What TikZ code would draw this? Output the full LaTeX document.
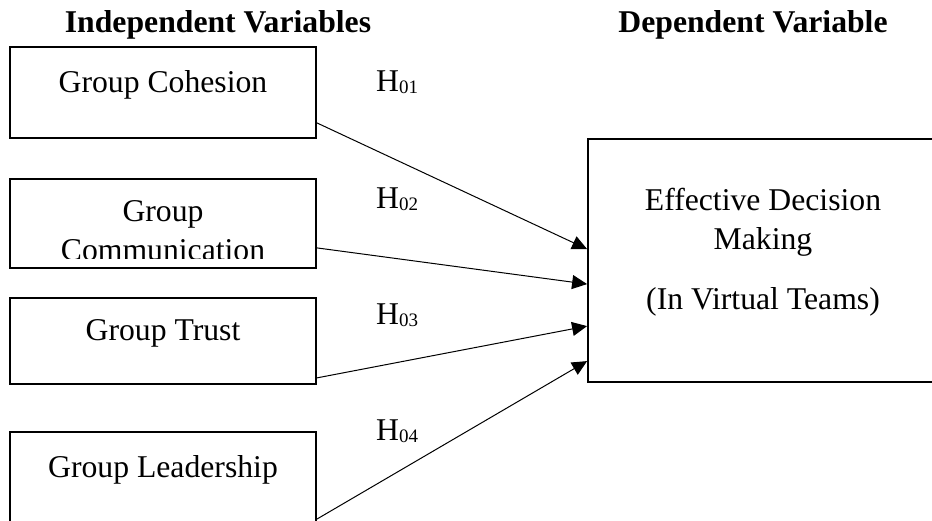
\documentclass[tikz,border=0pt]{standalone}
\usepackage{fontspec}
\setmainfont{Liberation Serif}
\usetikzlibrary{arrows.meta}
\newcommand{\bigtxt}{\fontsize{31.7}{38}\selectfont}
\newcommand{\hyp}[1]{H\raisebox{-2pt}{\fontsize{19}{19}\selectfont #1}}
\begin{document}
\begin{tikzpicture}[x=1pt,y=-1pt,
  varbox/.style={draw,line width=1.8pt,rectangle,inner sep=0pt,minimum width=306pt},
  txt/.style={anchor=base,inner sep=0pt,font=\bigtxt},
  head/.style={anchor=base,inner sep=0pt,font=\bigtxt\bfseries},
  link/.style={line width=1pt,-{Triangle[length=15pt,width=14pt]}}]
\useasboundingbox (0,0) rectangle (932,521);
\clip (0,0) rectangle (932,521);
\fill[white] (0,0) rectangle (932,521);
% headings
\node[head] (hind) at (218,33) {Independent Variables};
\node[head] (hdep) at (753,33) {Dependent Variable};
% independent variable boxes
\node[varbox,minimum height=91pt] (coh) at (163,92.5) {};
\node[varbox,minimum height=89pt] (com) at (163,223.5) {};
\node[varbox,minimum height=86pt] (tru) at (163,341) {};
\node[varbox,minimum height=100pt] (lea) at (163,482) {};
% dependent variable box
\node[draw,line width=1.8pt,rectangle,inner sep=0pt,minimum width=352pt,minimum height=243pt] (dv) at (764,260.5) {};
% texts
\node[txt] (tcoh) at (163,93) {Group Cohesion};
\node[txt] (tcom1) at (163,222) {Group};
\begin{scope}
\clip (10,179) rectangle (316,259);
\node[txt] (tcom2) at (163,261) {Communication};
\end{scope}
\node[txt] (ttru) at (163,341) {Group Trust};
\node[txt] (tlea) at (163,477) {Group Leadership};
\node[txt] (tdv1) at (763,211) {Effective Decision};
\node[txt] (tdv2) at (763,250) {Making};
\node[txt] (tdv3) at (763,310) {(In Virtual Teams)};
% hypothesis labels
\node[txt,anchor=base west] (h1) at (376,92) {\hyp{01}};
\node[txt,anchor=base west] (h2) at (376,209) {\hyp{02}};
\node[txt,anchor=base west] (h3) at (376,325) {\hyp{03}};
\node[txt,anchor=base west] (h4) at (376,440) {\hyp{04}};
% connectors
\draw[link] ([yshift=16pt]coh.south east) -- ([yshift=-111pt]dv.north west);
\draw[link] ([yshift=21pt]com.south east) -- ([yshift=-146pt]dv.north west);
\draw[link] ([yshift=7pt]tru.south east) -- ([yshift=-188pt]dv.north west);
\draw[link] ([yshift=-88pt]lea.north east) -- ([yshift=-223pt]dv.north west);
\end{tikzpicture}
\end{document}
